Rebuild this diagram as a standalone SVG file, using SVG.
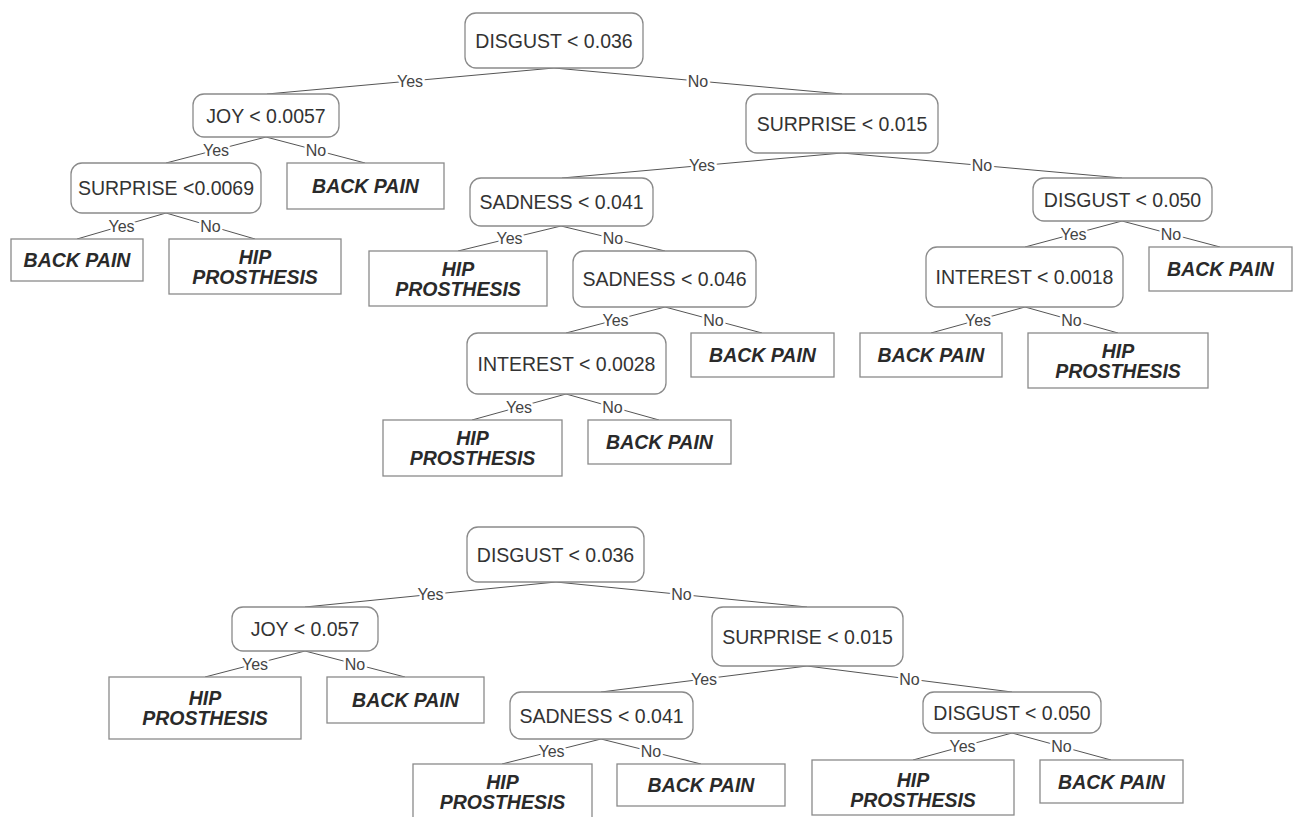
<svg xmlns="http://www.w3.org/2000/svg" width="1298" height="817" viewBox="0 0 1298 817">
<style>
.c rect{fill:#fff;stroke:#8a8a8a;stroke-width:1.3}
.c text{font-family:"Liberation Sans",Arial,sans-serif;font-size:19.5px;fill:#333;text-anchor:middle}
.l rect{fill:#fff;stroke:#8a8a8a;stroke-width:1.3}
.l text{font-family:"Liberation Sans",Arial,sans-serif;font-size:19.5px;font-weight:bold;font-style:italic;fill:#2a2a2a;text-anchor:middle}
#edges line{stroke:#555;stroke-width:1}
#edges text{font-family:"Liberation Sans",Arial,sans-serif;font-size:16px;fill:#444;text-anchor:middle;stroke:#fff;stroke-width:5;paint-order:stroke;stroke-linejoin:round}
</style>
<rect width="1298" height="817" fill="#fff"/>
<g id="edges">
<line x1="554" y1="68" x2="267" y2="94"/><text x="410" y="86.5">Yes</text>
<line x1="554" y1="68" x2="842" y2="94"/><text x="698" y="86.5">No</text>
<line x1="266" y1="137" x2="166" y2="163"/><text x="216" y="155.5">Yes</text>
<line x1="266" y1="137" x2="365" y2="163"/><text x="316" y="155.5">No</text>
<line x1="166" y1="213" x2="77" y2="239"/><text x="121.5" y="231.5">Yes</text>
<line x1="166" y1="213" x2="255" y2="239"/><text x="210.5" y="231.5">No</text>
<line x1="842" y1="153" x2="562" y2="178"/><text x="702" y="171">Yes</text>
<line x1="842" y1="153" x2="1122" y2="178"/><text x="982" y="171">No</text>
<line x1="561" y1="226" x2="458" y2="251"/><text x="509.5" y="244">Yes</text>
<line x1="561" y1="226" x2="665" y2="251"/><text x="613" y="244">No</text>
<line x1="1122" y1="221" x2="1025" y2="247"/><text x="1073.5" y="239.5">Yes</text>
<line x1="1122" y1="221" x2="1220" y2="247"/><text x="1171" y="239.5">No</text>
<line x1="1025" y1="307" x2="931" y2="333"/><text x="978" y="325.5">Yes</text>
<line x1="1025" y1="307" x2="1118" y2="333"/><text x="1071.5" y="325.5">No</text>
<line x1="665" y1="307" x2="566" y2="333"/><text x="615.5" y="325.5">Yes</text>
<line x1="665" y1="307" x2="762" y2="333"/><text x="713.5" y="325.5">No</text>
<line x1="566" y1="394" x2="472" y2="420"/><text x="519" y="412.5">Yes</text>
<line x1="566" y1="394" x2="659" y2="420"/><text x="612.5" y="412.5">No</text>
<line x1="556" y1="582" x2="305" y2="607"/><text x="430.5" y="600">Yes</text>
<line x1="556" y1="582" x2="807" y2="607"/><text x="681.5" y="600">No</text>
<line x1="305" y1="651" x2="205" y2="677"/><text x="255" y="669.5">Yes</text>
<line x1="305" y1="651" x2="405" y2="677"/><text x="355" y="669.5">No</text>
<line x1="807" y1="666" x2="601" y2="692"/><text x="704" y="684.5">Yes</text>
<line x1="807" y1="666" x2="1012" y2="692"/><text x="909.5" y="684.5">No</text>
<line x1="601" y1="739" x2="502" y2="764"/><text x="551.5" y="757">Yes</text>
<line x1="601" y1="739" x2="701" y2="764"/><text x="651" y="757">No</text>
<line x1="1012" y1="733" x2="913" y2="760"/><text x="962.5" y="752">Yes</text>
<line x1="1012" y1="733" x2="1111" y2="760"/><text x="1061.5" y="752">No</text>
</g>
<g id="t1-root" class="c"><rect x="465" y="13" width="178" height="55" rx="11"/><text x="554" y="47.5">DISGUST &lt; 0.036</text></g>
<g id="t1-joy" class="c"><rect x="193" y="94" width="146" height="43" rx="11"/><text x="266" y="122.5">JOY &lt; 0.0057</text></g>
<g id="t1-surprise" class="c"><rect x="746" y="94" width="192" height="59" rx="11"/><text x="842" y="130.5">SURPRISE &lt; 0.015</text></g>
<g id="t1-surprise2" class="c"><rect x="71" y="163" width="190" height="50" rx="11"/><text x="166" y="195">SURPRISE &lt;0.0069</text></g>
<g id="t1-leaf1" class="l"><rect x="287" y="163" width="157" height="46"/><text x="365.5" y="193">BACK PAIN</text></g>
<g id="t1-leaf2" class="l"><rect x="11" y="239" width="132" height="42"/><text x="77" y="267">BACK PAIN</text></g>
<g id="t1-leaf3" class="l"><rect x="169" y="239" width="172" height="55"/><text x="255" y="264">HIP</text><text x="255" y="284">PROSTHESIS</text></g>
<g id="t1-sadness1" class="c"><rect x="470" y="178" width="183" height="48" rx="11"/><text x="561.5" y="209">SADNESS &lt; 0.041</text></g>
<g id="t1-disgust2" class="c"><rect x="1033" y="178" width="179" height="43" rx="11"/><text x="1122.5" y="206.5">DISGUST &lt; 0.050</text></g>
<g id="t1-leaf4" class="l"><rect x="369" y="251" width="178" height="55"/><text x="458" y="276">HIP</text><text x="458" y="296">PROSTHESIS</text></g>
<g id="t1-sadness2" class="c"><rect x="573" y="251" width="183" height="56" rx="11"/><text x="664.5" y="286">SADNESS &lt; 0.046</text></g>
<g id="t1-interest1" class="c"><rect x="926" y="247" width="197" height="60" rx="11"/><text x="1024.5" y="284">INTEREST &lt; 0.0018</text></g>
<g id="t1-leaf5" class="l"><rect x="1149" y="247" width="143" height="44"/><text x="1220.5" y="276">BACK PAIN</text></g>
<g id="t1-leaf6" class="l"><rect x="860" y="333" width="142" height="44"/><text x="931" y="362">BACK PAIN</text></g>
<g id="t1-leaf7" class="l"><rect x="1028" y="333" width="180" height="55"/><text x="1118" y="358">HIP</text><text x="1118" y="378">PROSTHESIS</text></g>
<g id="t1-interest2" class="c"><rect x="467" y="333" width="199" height="61" rx="11"/><text x="566.5" y="370.5">INTEREST &lt; 0.0028</text></g>
<g id="t1-leaf8" class="l"><rect x="691" y="333" width="143" height="44"/><text x="762.5" y="362">BACK PAIN</text></g>
<g id="t1-leaf9" class="l"><rect x="383" y="420" width="179" height="56"/><text x="472.5" y="445">HIP</text><text x="472.5" y="465">PROSTHESIS</text></g>
<g id="t1-leaf10" class="l"><rect x="588" y="420" width="143" height="44"/><text x="659.5" y="449">BACK PAIN</text></g>
<g id="t2-root" class="c"><rect x="467" y="527" width="177" height="55" rx="11"/><text x="555.5" y="561.5">DISGUST &lt; 0.036</text></g>
<g id="t2-joy" class="c"><rect x="232" y="607" width="146" height="44" rx="11"/><text x="305" y="636">JOY &lt; 0.057</text></g>
<g id="t2-surprise" class="c"><rect x="712" y="607" width="191" height="59" rx="11"/><text x="807.5" y="643.5">SURPRISE &lt; 0.015</text></g>
<g id="t2-leaf1" class="l"><rect x="109" y="677" width="192" height="62"/><text x="205" y="705">HIP</text><text x="205" y="725">PROSTHESIS</text></g>
<g id="t2-leaf2" class="l"><rect x="327" y="677" width="157" height="46"/><text x="405.5" y="707">BACK PAIN</text></g>
<g id="t2-sadness" class="c"><rect x="510" y="692" width="183" height="47" rx="11"/><text x="601.5" y="722.5">SADNESS &lt; 0.041</text></g>
<g id="t2-disgust2" class="c"><rect x="923" y="692" width="178" height="41" rx="11"/><text x="1012" y="719.5">DISGUST &lt; 0.050</text></g>
<g id="t2-leaf3" class="l"><rect x="413" y="764" width="179" height="62"/><text x="502.5" y="789">HIP</text><text x="502.5" y="809">PROSTHESIS</text></g>
<g id="t2-leaf4" class="l"><rect x="617" y="764" width="168" height="42"/><text x="701" y="792">BACK PAIN</text></g>
<g id="t2-leaf5" class="l"><rect x="812" y="760" width="202" height="55"/><text x="913" y="787">HIP</text><text x="913" y="807">PROSTHESIS</text></g>
<g id="t2-leaf6" class="l"><rect x="1040" y="760" width="143" height="43"/><text x="1111.5" y="788.5">BACK PAIN</text></g>
</svg>
